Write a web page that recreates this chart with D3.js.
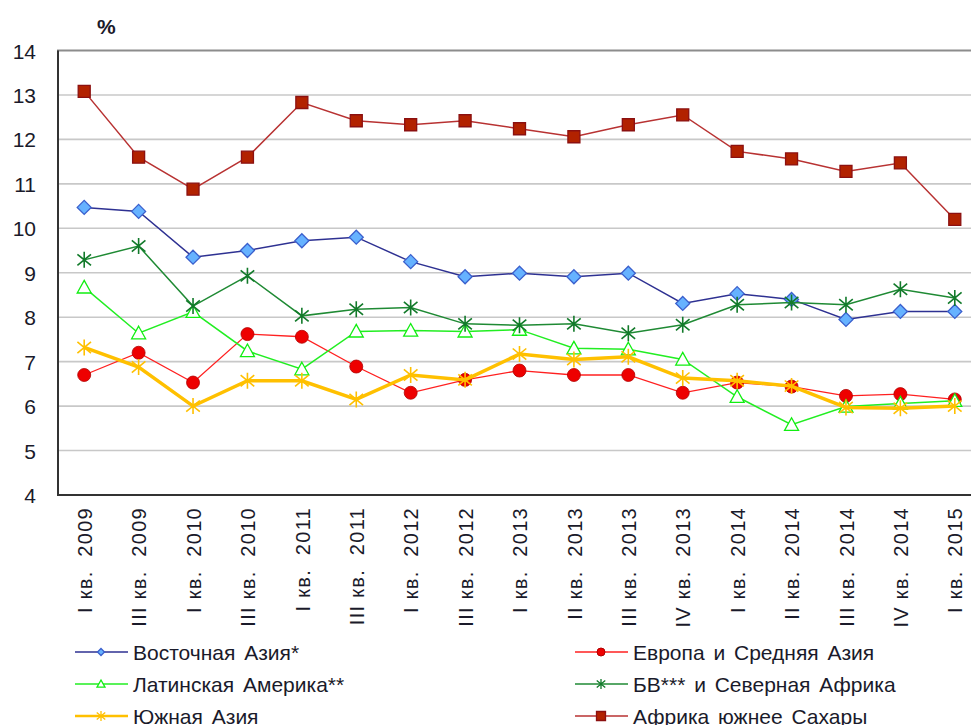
<!doctype html>
<meta charset="utf-8">
<script src="https://d3js.org/d3.v7.min.js"></script>
<style>
  body {margin: 0; background: #fff;}
  text {font-family: "Liberation Sans", Arial, sans-serif; fill: #1a1a2a;}
</style>
<body>
<svg width="971" height="725"></svg>
<script>
// quarters on the x axis
var quarters = ["I кв. 2009", "III кв. 2009", "I кв. 2010", "III кв. 2010", "I кв. 2011", "III кв. 2011",
  "I кв. 2012", "III кв. 2012", "I кв. 2013", "II кв. 2013", "III кв. 2013", "IV кв. 2013",
  "I кв. 2014", "II кв. 2014", "III кв. 2014", "IV кв. 2014", "I кв. 2015"];
var yTicks = [4, 5, 6, 7, 8, 9, 10, 11, 12, 13, 14];

var eastAsia   = [10.47, 10.38, 9.35, 9.5, 9.72, 9.8, 9.25, 8.91, 8.99, 8.91, 8.99, 8.31, 8.53, 8.4, 7.95, 8.13, 8.13];
var europe     = [6.7, 7.2, 6.53, 7.62, 7.56, 6.89, 6.3, 6.59, 6.8, 6.7, 6.7, 6.3, 6.53, 6.44, 6.23, 6.27, 6.15];
var latAmerica = [8.67, 7.64, 8.12, 7.24, 6.83, 7.68, 7.7, 7.68, 7.72, 7.3, 7.28, 7.05, 6.21, 5.58, 5.99, 6.06, 6.12];
var mena       = [9.29, 9.6, 8.25, 8.93, 8.03, 8.18, 8.22, 7.85, 7.82, 7.85, 7.64, 7.83, 8.28, 8.33, 8.28, 8.63, 8.43];
var southAsia  = [7.32, 6.88, 6.0, 6.57, 6.57, 6.15, 6.7, 6.59, 7.17, 7.05, 7.11, 6.63, 6.57, 6.45, 5.97, 5.95, 6.0];
var africa     = [13.08, 11.6, 10.88, 11.6, 12.83, 12.42, 12.33, 12.42, 12.24, 12.06, 12.33, 12.55, 11.73, 11.56, 11.28, 11.47, 10.2];

var seriesNames = ["Восточная Азия*", "Европа и Средняя Азия", "Латинская Америка**",
  "БВ*** и Северная Африка", "Южная Азия", "Африка южнее Сахары"];

var series = [
  {name: seriesNames[0], values: eastAsia,   line: "#2e3192", width: 1.5, marker: "diamond", fill: "#66b2ff", stroke: "#3a5fcd"},
  {name: seriesNames[1], values: europe,     line: "#ff2020", width: 1.3, marker: "circle",  fill: "#ee0000", stroke: "#b00000"},
  {name: seriesNames[2], values: latAmerica, line: "#22ee22", width: 1.5, marker: "triangle",fill: "#ffffff", stroke: "#11ee11"},
  {name: seriesNames[3], values: mena,       line: "#1f8a34", width: 1.5, marker: "star",    fill: "none",    stroke: "#127a2a"},
  {name: seriesNames[4], values: southAsia,  line: "#ffc000", width: 3.5, marker: "star",    fill: "none",    stroke: "#ffc000"},
  {name: seriesNames[5], values: africa,     line: "#b83232", width: 1.5, marker: "square",  fill: "#b22200", stroke: "#8b1010"}
];

var svg = d3.select("svg");
var x = d3.scalePoint().domain(quarters).range([57, 982]).padding(0.5);
var y = d3.scaleLinear().domain([4, 14]).range([495, 50.5]);

// gridlines
svg.append("g").selectAll("line")
  .data(yTicks.slice(1, -1))
  .enter().append("line")
    .attr("x1", 57).attr("x2", 971)
    .attr("y1", function(d) {return y(d)}).attr("y2", function(d) {return y(d)})
    .attr("stroke", "#c8c8c8").attr("stroke-width", 1.6);

// top border + axes
svg.append("line").attr("x1", 57).attr("x2", 971).attr("y1", y(14)).attr("y2", y(14))
  .attr("stroke", "#8c8c8c").attr("stroke-width", 2);
svg.append("line").attr("x1", 58).attr("x2", 58).attr("y1", y(14)).attr("y2", y(4))
  .attr("stroke", "#333").attr("stroke-width", 2);
svg.append("line").attr("x1", 57).attr("x2", 971).attr("y1", y(4)).attr("y2", y(4))
  .attr("stroke", "#333").attr("stroke-width", 2);

// y tick labels
var yAxis = svg.append("g").attr("transform", "translate(36,0)")
  .call(d3.axisLeft(y).tickValues(yTicks).tickSize(0).tickPadding(0));
yAxis.select(".domain").remove();
yAxis.selectAll("text").style("font-size", "21px").attr("dy", "0.36em");

svg.append("text").attr("x", 97).attr("y", 34).style("font-size", "21px").style("font-weight", "bold").text("%");

// x labels (rotated)
var xAxis = svg.append("g").attr("transform", "translate(0,507)")
  .call(d3.axisBottom(x).tickSize(0).tickPadding(0));
xAxis.select(".domain").remove();
xAxis.selectAll("text")
  .attr("transform", "rotate(-90)")
  .attr("x", 0).attr("y", 0).attr("dy", "0.36em").attr("dx", 0)
  .style("text-anchor", "end")
  .style("font-size", "20px")
  .style("letter-spacing", "1.3px")
  .text(function(d) {return d.replace(" кв. ", " кв.  ")})
  .style("white-space", "pre");

function markerPath(type, s) {
  if (type === "diamond") return "M0," + (-s) + "L" + s + ",0L0," + s + "L" + (-s) + ",0Z";
  if (type === "square") return "M" + (-s) + "," + (-s) + "H" + s + "V" + s + "H" + (-s) + "Z";
  if (type === "triangle") return "M0," + (-s) + "L" + s + "," + (s * 0.8) + "L" + (-s) + "," + (s * 0.8) + "Z";
  if (type === "star") return "M0," + (-s) + "V" + s + "M" + (-s * 0.85) + "," + (-s * 0.7) + "L" + (s * 0.85) + "," + (s * 0.7) +
    "M" + (-s * 0.85) + "," + (s * 0.7) + "L" + (s * 0.85) + "," + (-s * 0.7);
  return null;
}
var markerSize = {diamond: 7, square: 6, triangle: 7, star: 8, circle: 6.5};

var line = d3.line().x(function(d, i) {return x(quarters[i])}).y(function(d) {return y(d)});

series.forEach(function(s) {
  var g = svg.append("g");
  g.append("path").datum(s.values)
    .attr("d", line).attr("fill", "none")
    .attr("stroke", s.line).attr("stroke-width", s.width);
  var m = g.selectAll(".m").data(s.values).enter();
  if (s.marker === "circle") {
    m.append("circle")
      .attr("cx", function(d, i) {return x(quarters[i])}).attr("cy", function(d) {return y(d)})
      .attr("r", markerSize.circle).attr("fill", s.fill).attr("stroke", s.stroke).attr("stroke-width", 0.8);
  } else {
    m.append("path")
      .attr("transform", function(d, i) {return "translate(" + x(quarters[i]) + "," + y(d) + ")"})
      .attr("d", markerPath(s.marker, markerSize[s.marker]))
      .attr("fill", s.fill).attr("stroke", s.stroke)
      .attr("stroke-width", s.marker === "star" ? 1.6 : 1.3);
  }
});

// legend (bottom row is clipped by the image edge, as in the original)
var legendPos = [[75, 652], [575, 652], [75, 684], [575, 684], [75, 716], [575, 716]];
var legendSize = {diamond: 3.5, square: 4.5, triangle: 4, star: 5, circle: 4};
series.forEach(function(s, i) {
  var p = legendPos[i];
  var g = svg.append("g").attr("transform", "translate(" + p[0] + "," + p[1] + ")");
  g.append("line").attr("x1", 0).attr("x2", 53).attr("y1", 0).attr("y2", 0)
    .attr("stroke", s.line).attr("stroke-width", Math.min(s.width, 2.5));
  if (s.marker === "circle") {
    g.append("circle").attr("cx", 26).attr("r", legendSize.circle).attr("fill", s.fill).attr("stroke", s.stroke);
  } else {
    g.append("path").attr("transform", "translate(26,0)")
      .attr("d", markerPath(s.marker, legendSize[s.marker]))
      .attr("fill", s.fill).attr("stroke", s.stroke).attr("stroke-width", 1.3);
  }
  g.append("text").attr("x", 58).attr("y", 0).attr("dy", "0.36em")
    .style("font-size", "21px").style("word-spacing", "3px").text(s.name);
});
</script>
</body>
